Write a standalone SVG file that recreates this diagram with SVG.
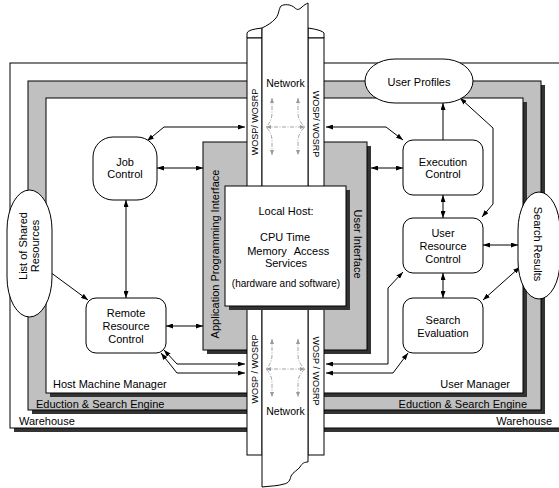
<svg xmlns="http://www.w3.org/2000/svg" width="559" height="488" viewBox="0 0 559 488">
<defs>
<marker id="ar" markerWidth="7" markerHeight="5" refX="7" refY="2.5" orient="auto-start-reverse" markerUnits="userSpaceOnUse"><path d="M0,0 L7,2.5 L0,5 Z" fill="#000"/></marker>
<marker id="ag" markerWidth="5" markerHeight="4" refX="5" refY="2" orient="auto-start-reverse" markerUnits="userSpaceOnUse"><path d="M0,0 L5,2 L0,4 Z" fill="#999"/></marker>
<style>
text{font-family:"Liberation Sans",Arial,sans-serif;font-size:11px;fill:#000}
.sh{fill:#333}
.fr{stroke:#000;stroke-width:1}
.g{fill:#c0c0c0}
.w{fill:#fff}
.node{fill:#fff;stroke:#000;stroke-width:1}
.c{fill:none;stroke:#000;stroke-width:1;marker-end:url(#ar)}
.b{marker-start:url(#ar)}
.net{fill:none;stroke:#999;stroke-width:0.9;stroke-dasharray:4 1.5 1 1.5;marker-start:url(#ag);marker-end:url(#ag)}
.m{text-anchor:middle}
.s9{font-size:9px}
</style>
</defs>

<g id="warehouse">
<rect class="sh" x="14" y="67" width="560" height="365"/>
<rect class="w fr" x="10" y="63" width="560" height="365"/>
<text x="19" y="425">Warehouse</text>
<text x="552" y="425" text-anchor="end">Warehouse</text>
</g>
<g id="eduction-search-engine">
<rect class="sh" x="32" y="85" width="513" height="329"/>
<rect class="g fr" x="28" y="81" width="513" height="329"/>
<text x="36" y="407.5">Eduction &amp; Search Engine</text>
<text x="527" y="407.5" text-anchor="end">Eduction &amp; Search Engine</text>
</g>
<g id="host-machine-manager">
<rect class="sh" x="50" y="102" width="477" height="295"/>
<rect class="w fr" x="46" y="98" width="477" height="295"/>
<text x="53" y="388">Host Machine Manager</text>
</g>
<g id="user-manager">
<text x="510" y="388" text-anchor="end">User Manager</text>
</g>

<g id="interfaces">
<rect class="sh" x="207" y="146" width="164" height="208"/>
<rect class="g fr" x="203" y="142" width="164" height="208"/>
<text class="m" transform="translate(215,254) rotate(-90)" y="4">Application Programming Interface</text>
<text class="m" transform="translate(358,244) rotate(90)" y="4">User Interface</text>
</g>

<g id="network">
<path class="w fr" d="M247,38 L247,33 Q248,29.5 262,28 L262,38 Z"/>
<path class="w fr" d="M308,28 Q322,30 324,33 L324,38 L308,38 Z"/>
<rect class="w fr" x="247" y="38" width="15" height="417"/>
<rect class="w fr" x="308" y="38" width="16" height="417"/>
<path class="w fr" d="M262,28 C266,26 272,23 276,18 C279,14 279,8 281,6 C284,4 291,4 295,8 C297,10 299,10 302,7 C304,5 306,4 308,3 L308,462 C305,462 302,463 300,467 C298,470 293,472 291,476 C290,480 289,483 284,484 C278,486 270,486 262,487 Z"/>
<text class="m" x="285.5" y="87" style="font-size:10.5px">Network</text>
<text class="m" x="285.5" y="415" style="font-size:10.5px">Network</text>
<text class="m s9" transform="translate(254.5,122) rotate(-90)" y="3">WOSP/ WOSRP</text>
<text class="m s9" transform="translate(316,124) rotate(90)" y="3">WOSP/ WOSRP</text>
<text class="m s9" transform="translate(254.5,369) rotate(-90)" y="3">WOSP / WOSRP</text>
<text class="m s9" transform="translate(316,371) rotate(90)" y="3">WOSP / WOSRP</text>
<path class="net" d="M266,127 L305,127"/>
<path class="net" d="M272,98 L272,113 Q272,121 266,127 Q272,133 272,141 L272,155"/>
<path class="net" d="M298,98 L298,113 Q298,121 305,127 Q298,133 298,141 L298,155"/>
<path class="net" d="M266,369 L305,369"/>
<path class="net" d="M272,339 L272,355 Q272,363 266,369 Q272,375 272,383 L272,397"/>
<path class="net" d="M298,339 L298,355 Q298,363 305,369 Q298,375 298,383 L298,397"/>
</g>

<g id="local-host">
<rect class="sh" x="229" y="190" width="121" height="120"/>
<rect class="node" x="225" y="186" width="121" height="120"/>
<text class="m" x="286" y="215">Local Host:</text>
<text class="m" x="285" y="241">CPU Time</text>
<text class="m" x="267" y="255">Memory</text>
<text class="m" x="311.5" y="255">Access</text>
<text class="m" x="286" y="267">Services</text>
<text class="m" x="286" y="287" style="font-size:10px">(hardware and software)</text>
</g>

<g id="connectors">
<path class="c b" d="M245,127 L164,127 L147,141"/>
<path class="c b" d="M157,168 L203,168"/>
<path class="c b" d="M126,200 L126,298"/>
<path class="c" d="M50,272 L88,300"/>
<path class="c b" d="M166,326 L203,326"/>
<path class="c b" d="M164,350 L177,364 L245,364"/>
<path class="c b" d="M161,353 L177,373 L245,373"/>
<path class="c b" d="M326,127 L386,127 L403,140"/>
<path class="c b" d="M371,168 L403,168"/>
<path class="c" d="M443,140 L443,103"/>
<path class="c b" d="M460,98 L493,128 L493,204 L482,217"/>
<path class="c b" d="M443,195 L443,218"/>
<path class="c b" d="M483,245 L518,245"/>
<path class="c b" d="M443,273 L443,298"/>
<path class="c b" d="M520,267 L483,300"/>
<path class="c b" d="M403,272 L388,288 L388,364 L326,364"/>
<path class="c b" d="M408,353 L393,373 L326,373"/>
</g>

<g id="job-control">
<rect class="node" x="93" y="137" width="64" height="63" rx="20"/>
<text class="m" x="125" y="166">Job</text>
<text class="m" x="125" y="178">Control</text>
</g>
<g id="remote-resource-control">
<rect class="node" x="86" y="298" width="80" height="55" rx="10"/>
<text class="m" x="126" y="317">Remote</text>
<text class="m" x="126" y="330">Resource</text>
<text class="m" x="126" y="343">Control</text>
</g>
<g id="execution-control">
<rect class="node" x="403" y="140" width="80" height="55" rx="10"/>
<text class="m" x="443" y="166">Execution</text>
<text class="m" x="443" y="178">Control</text>
</g>
<g id="user-resource-control">
<rect class="node" x="403" y="218" width="80" height="55" rx="10"/>
<text class="m" x="443" y="237">User</text>
<text class="m" x="443" y="250">Resource</text>
<text class="m" x="443" y="263">Control</text>
</g>
<g id="search-evaluation">
<rect class="node" x="403" y="298" width="80" height="55" rx="10"/>
<text class="m" x="443" y="324">Search</text>
<text class="m" x="443" y="337">Evaluation</text>
</g>
<g id="user-profiles">
<rect class="node" x="365" y="59" width="108" height="44" rx="30" ry="22"/>
<text class="m" x="419" y="86">User Profiles</text>
</g>
<g id="list-of-shared-resources">
<rect class="node" x="7" y="190" width="45" height="127" rx="22.5" ry="40"/>
<text class="m" transform="translate(29,246) rotate(-90)" y="-2">List of Shared</text>
<text class="m" transform="translate(29,246) rotate(-90)" y="10">Resources</text>
</g>
<g id="search-results">
<rect class="node" x="518" y="192" width="42" height="107" rx="21" ry="38"/>
<text class="m" transform="translate(538,244) rotate(90)" y="4">Search Results</text>
</g>
</svg>
